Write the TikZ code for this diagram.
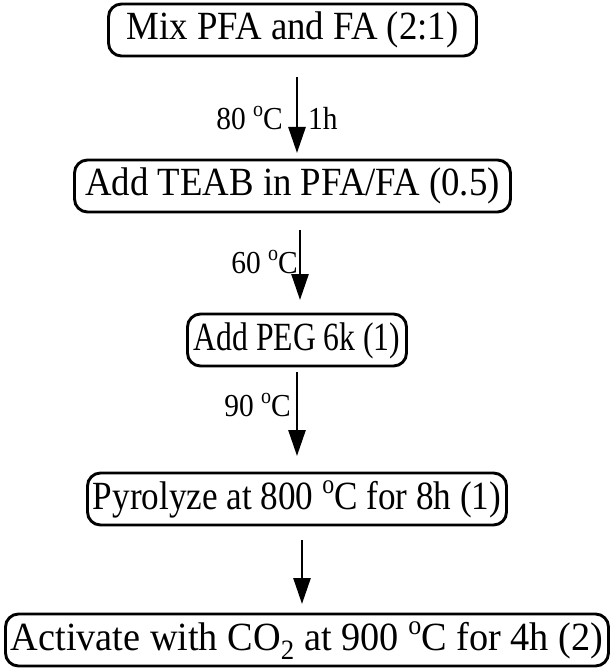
\documentclass[tikz,border=0pt]{standalone}
\usepackage{fontspec}
\setmainfont[FakeStretch=0.92]{Liberation Serif}
\usetikzlibrary{arrows.meta}
\tikzset{
  stepbox/.style={draw, line width=2.9pt, rounded corners=13pt,
    inner xsep=2pt, inner ysep=7pt, text height=29pt, text depth=9pt,
    minimum width=#1, font=\fontsize{40}{44}\selectfont},
  flow/.style={line width=2.7pt, -{Stealth[length=26pt, width=17pt, inset=0pt]}},
  cond/.style={font=\fontsize{32}{35}\selectfont, inner sep=0pt}
}
% degree sign written as a raised small "o"
\newcommand{\degC}{\raisebox{0.40em}{\scalebox{0.68}{o}}C}
% horizontally squeezed or widened text
\newcommand{\hsq}[2]{\scalebox{#1}[1]{#2}}
\begin{document}
\begin{tikzpicture}[x=1pt, y=-1pt]
  \useasboundingbox (0,0) rectangle (613,668);

  % process steps
  \node[stepbox=368pt] (mix)  at (292.5,30)  {Mix PFA and FA (2:1)};
  \node[stepbox=436pt] (teab) at (292.5,186) {Add TEAB in PFA/FA (0.5)};
  \node[stepbox=219pt] (peg)  at (297,340)   {\hsq{0.86}{Add PEG 6k (1)}};
  \node[stepbox=419pt] (pyro) at (297,499)   {\hsq{0.955}{Pyrolyze at 800 \degC{} for 8h (1)}};
  \node[stepbox=603pt] (act)  at (307,640)   {\hsq{1.04}{Activate with CO\textsubscript{2} at 900 \degC{} for 4h (2)}};

  % arrow end points
  \coordinate (a1s) at (297,77);  \coordinate (a1e) at (297,153);
  \coordinate (a2s) at (300,230); \coordinate (a2e) at (300,300);
  \coordinate (a3s) at (297,372); \coordinate (a3e) at (297,456);
  \coordinate (a4s) at (302,540); \coordinate (a4e) at (302,604);

  \draw[flow] (a1s) -- (a1e);
  \draw[flow] (a2s) -- (a2e);
  \draw[flow] (a3s) -- (a3e);
  \draw[flow] (a4s) -- (a4e);

  % reaction conditions
  \node[cond, anchor=east] (t1) at (283,118) {80 \degC};
  \node[cond, anchor=west] (h1) at (308,118) {1h};
  \node[cond, anchor=east] (t2) at (298,262) {60 \degC};
  \node[cond, anchor=east] (t3) at (291,405) {90 \degC};
\end{tikzpicture}
\end{document}
